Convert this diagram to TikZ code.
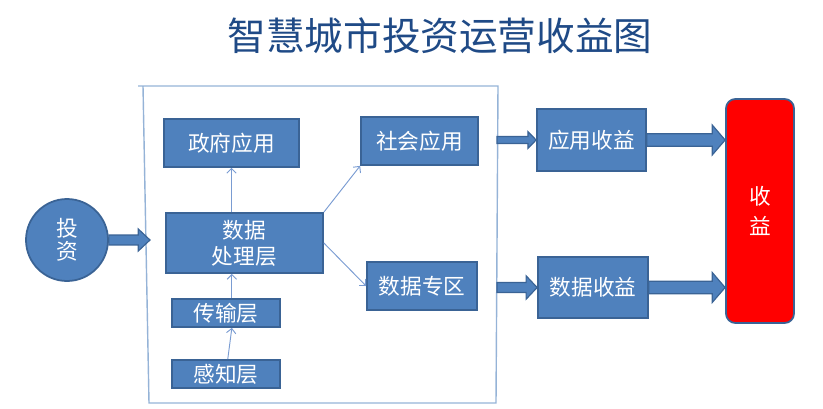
\documentclass[tikz,border=0pt]{standalone}
\usepackage{fontspec}
\newfontfamily\cjk{Noto Sans CJK SC}
\usepackage{tikz}
\usetikzlibrary{arrows.meta}
\usetikzlibrary{calc}
\definecolor{boxfill}{HTML}{4F81BD}
\definecolor{boxline}{HTML}{3A6395}
\definecolor{thinline}{HTML}{7A9CD2}
\definecolor{framecolor}{HTML}{95B3D7}
\definecolor{titlecolor}{HTML}{1F4A86}

\tikzset{
  box/.style={draw=boxline, line width=1.5pt, fill=boxfill, text=white, inner sep=0pt,
    align=center, font=\cjk\fontsize{18.5}{22}\selectfont},
  thinarrow/.style={draw=thinline, line width=0.8pt, -{Straight Barb[length=4pt,width=8pt]}},
  fat/.style={draw=boxline, line width=1pt, fill=boxfill},
}
% block arrow: start, end, shaft half-height, head half-height, head length
\newcommand{\fatarrow}[5]{%
  \draw[fat] let \p1=(#1), \p2=(#2) in
    (\x1,\y1+#3) -- (\x2-#5,\y1+#3) -- (\x2-#5,\y1+#4) -- (\x2,\y1)
    -- (\x2-#5,\y1-#4) -- (\x2-#5,\y1-#3) -- (\x1,\y1-#3) -- cycle;}

\begin{document}
\begin{tikzpicture}[x=0.3mm,y=-0.3mm]
\useasboundingbox (0,0) rectangle (823,408);
\node[font=\cjk\fontsize{33}{40}\selectfont, text=titlecolor] (title) at (440,36) {智慧城市投资运营收益图};

% frame round the platform
\draw[framecolor, line width=1.2pt] (138,86) -- (498,86) -- (496,403) -- (149,403) -- (143,86);
\coordinate (frameleft) at (150,240);
\coordinate (frameright) at (497,240);

\node[box, circle, minimum size=82*0.3mm, font=\cjk\fontsize{18.5}{20}\selectfont] (invest) at (67,240) {投\\资};

\node[box, minimum width=135*0.3mm, minimum height=48*0.3mm] (gov) at (231.5,143) {政府应用};
\node[box, minimum width=157*0.3mm, minimum height=60*0.3mm] (proc) at (244.5,243) {数据\\处理层};
\node[box, minimum width=108*0.3mm, minimum height=28*0.3mm] (trans) at (226,313) {传输层};
\node[box, minimum width=108*0.3mm, minimum height=28*0.3mm] (sense) at (226,374) {感知层};
\node[box, minimum width=117*0.3mm, minimum height=48*0.3mm] (social) at (419.5,141) {社会应用};
\node[box, minimum width=110*0.3mm, minimum height=48*0.3mm] (zone) at (422,286) {数据专区};
\node[box, minimum width=109*0.3mm, minimum height=62*0.3mm] (apprev) at (591.5,140) {应用收益};
\node[box, minimum width=110*0.3mm, minimum height=61*0.3mm] (datarev) at (593,287.5) {数据收益};
\node[box, fill=red, rounded corners=8pt, minimum width=68*0.3mm, minimum height=224*0.3mm,
  font=\cjk\fontsize{18.5}{26}\selectfont] (rev) at (760,211) {收\\益};

% thin links inside the frame
\draw[thinarrow] (gov.south |- proc.north) -- (gov.south);
\draw[thinarrow] ([xshift=5pt]trans.north) -- ([xshift=5pt]trans.north |- proc.south);
\draw[thinarrow] ([xshift=1.5pt]sense.north) -- ([xshift=5pt]trans.south);
\draw[thinarrow] (proc.north east) -- (social.south west);
\draw[thinarrow] (proc.east) -- (zone.west);

% block arrows
\fatarrow{invest.east}{frameleft}{4.2pt}{9.4pt}{10pt}
\fatarrow{frameright |- apprev.west}{apprev.west}{3pt}{7.2pt}{7pt}
\fatarrow{frameright |- datarev.west}{datarev.west}{4.2pt}{10pt}{9.4pt}
\fatarrow{apprev.east}{apprev.east -| rev.west}{5.4pt}{12.8pt}{11pt}
\fatarrow{datarev.east}{datarev.east -| rev.west}{5.4pt}{12.8pt}{11pt}
\end{tikzpicture}
\end{document}
